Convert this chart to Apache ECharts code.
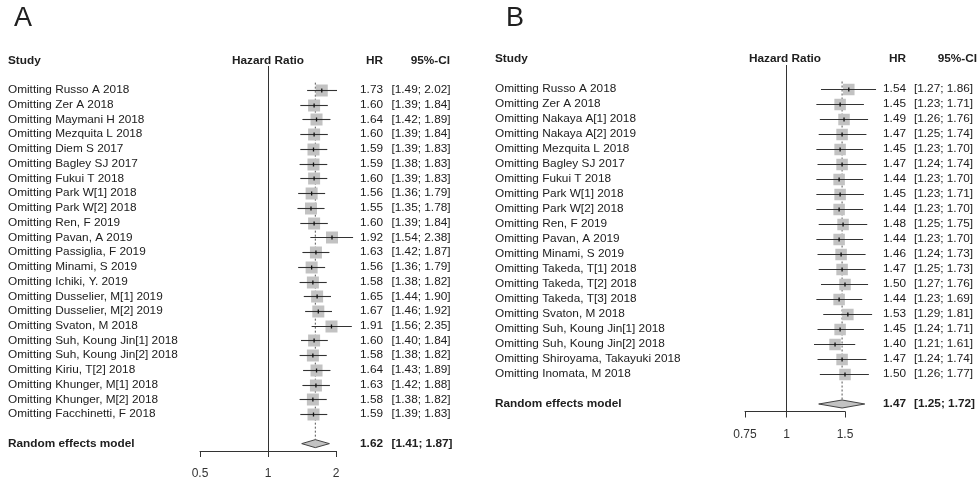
<!DOCTYPE html>
<html><head><meta charset="utf-8">
<script src="https://cdn.jsdelivr.net/npm/echarts@6/dist/echarts.min.js"></script>
<style>html,body{margin:0;padding:0;background:#fff}#c{width:979px;height:483px}</style>
</head><body><div id="c"></div>
<script>
// ---- Panel A data ----
const studiesA = ["Omitting Russo A 2018","Omitting Zer A 2018","Omitting Maymani H 2018","Omitting Mezquita L 2018","Omitting Diem S 2017","Omitting Bagley SJ 2017","Omitting Fukui T 2018","Omitting Park W[1] 2018","Omitting Park W[2] 2018","Omitting Ren, F 2019","Omitting Pavan, A 2019","Omitting Passiglia, F 2019","Omitting Minami, S 2019","Omitting Ichiki, Y. 2019","Omitting Dusselier, M[1] 2019","Omitting Dusselier, M[2] 2019","Omitting Svaton, M 2018","Omitting Suh, Koung Jin[1] 2018","Omitting Suh, Koung Jin[2] 2018","Omitting Kiriu, T[2] 2018","Omitting Khunger, M[1] 2018","Omitting Khunger, M[2] 2018","Omitting Facchinetti, F 2018"];
const hrA = [1.73,1.60,1.64,1.60,1.59,1.59,1.60,1.56,1.55,1.60,1.92,1.63,1.56,1.58,1.65,1.67,1.91,1.60,1.58,1.64,1.63,1.58,1.59];
const loA = [1.49,1.39,1.42,1.39,1.39,1.38,1.39,1.36,1.35,1.39,1.54,1.42,1.36,1.38,1.44,1.46,1.56,1.40,1.38,1.43,1.42,1.38,1.39];
const hiA = [2.02,1.84,1.89,1.84,1.83,1.83,1.83,1.79,1.78,1.84,2.38,1.87,1.79,1.82,1.90,1.92,2.35,1.84,1.82,1.89,1.88,1.82,1.83];
const pooledA = [1.62, 1.41, 1.87];
const ticksA = [0.5, 1, 2];

// ---- Panel B data ----
const studiesB = ["Omitting Russo A 2018","Omitting Zer A 2018","Omitting Nakaya A[1] 2018","Omitting Nakaya A[2] 2019","Omitting Mezquita L 2018","Omitting Bagley SJ 2017","Omitting Fukui T 2018","Omitting Park W[1] 2018","Omitting Park W[2] 2018","Omitting Ren, F 2019","Omitting Pavan, A 2019","Omitting Minami, S 2019","Omitting Takeda, T[1] 2018","Omitting Takeda, T[2] 2018","Omitting Takeda, T[3] 2018","Omitting Svaton, M 2018","Omitting Suh, Koung Jin[1] 2018","Omitting Suh, Koung Jin[2] 2018","Omitting Shiroyama, Takayuki 2018","Omitting Inomata, M 2018"];
const hrB = [1.54,1.45,1.49,1.47,1.45,1.47,1.44,1.45,1.44,1.48,1.44,1.46,1.47,1.50,1.44,1.53,1.45,1.40,1.47,1.50];
const loB = [1.27,1.23,1.26,1.25,1.23,1.24,1.23,1.23,1.23,1.25,1.23,1.24,1.25,1.27,1.23,1.29,1.24,1.21,1.24,1.26];
const hiB = [1.86,1.71,1.76,1.74,1.70,1.74,1.70,1.71,1.70,1.75,1.70,1.73,1.73,1.76,1.69,1.81,1.71,1.61,1.74,1.77];
const pooledB = [1.47, 1.25, 1.72];
const ticksB = [0.75, 1, 1.5];

const FONT = "'Liberation Sans', Arial, sans-serif";
const FS = 11.8;
const TXT = '#202020';
const L2 = Math.log2;
const fmt = v => v.toFixed(2);

function panel(idx, studies, hr, lo, hi, pooled, ticks, cfg) {
  const n = studies.length;
  const reRow = n + 2;
  const studyData = hr.map((h, i) => [L2(h), L2(lo[i]), L2(hi[i]), i + 1]);
  const textData = studies.map((s, i) => [i + 1, s, fmt(hr[i]), '[' + fmt(lo[i]) + '; ' + fmt(hi[i]) + ']', 0]);
  textData.push([reRow, 'Random effects model', fmt(pooled[0]), '[' + fmt(pooled[1]) + '; ' + fmt(pooled[2]) + ']', 1]);
  const sq = cfg.sq;
  const series = [
    {
      type: 'line', xAxisIndex: idx, yAxisIndex: idx, symbol: 'none', silent: true,
      data: [[L2(pooled[0]), 0.5], [L2(pooled[0]), reRow - 0.28]],
      lineStyle: { color: '#555', width: 1, type: [2, 2] },
      markLine: { symbol: 'none', silent: true, label: { show: false },
        lineStyle: { color: '#333', width: 1, type: 'solid' }, data: [{ xAxis: 0 }] },
      z: 1
    },
    {
      type: 'custom', xAxisIndex: idx, yAxisIndex: idx, silent: true, clip: false,
      data: studyData, encode: { x: [0, 1, 2], y: 3 },
      renderItem: function (p, api) {
        const c = api.coord([api.value(0), api.value(3)]);
        const a = api.coord([api.value(1), api.value(3)]);
        const b = api.coord([api.value(2), api.value(3)]);
        const y = Math.round(c[1]) + 0.5;
        return { type: 'group', children: [
          { type: 'rect', shape: { x: c[0] - sq / 2, y: y - sq / 2, width: sq, height: sq }, style: { fill: '#c2c2c2' } },
          { type: 'line', shape: { x1: a[0], y1: y, x2: b[0], y2: y }, style: { stroke: '#333', lineWidth: 1.1 } },
          { type: 'line', shape: { x1: c[0], y1: y - 2, x2: c[0], y2: y + 2 }, style: { stroke: '#111', lineWidth: 1.3 } }
        ] };
      }, z: 2
    },
    {
      type: 'custom', xAxisIndex: idx, yAxisIndex: idx, silent: true, clip: false,
      data: [[L2(pooled[0]), L2(pooled[1]), L2(pooled[2]), reRow]], encode: { x: [0, 1, 2], y: 3 },
      renderItem: function (p, api) {
        const r = api.value(3);
        const c = api.coord([api.value(0), r]);
        const a = api.coord([api.value(1), r]);
        const b = api.coord([api.value(2), r]);
        const h = 4;
        return { type: 'polygon', shape: { points: [[a[0], c[1]], [c[0], c[1] - h], [b[0], c[1]], [c[0], c[1] + h]] },
          style: { fill: '#c2c2c2', stroke: '#444', lineWidth: 1 } };
      }, z: 3
    },
    {
      type: 'custom', xAxisIndex: idx, yAxisIndex: idx, silent: true, clip: false,
      data: textData, encode: { y: 0 },
      renderItem: function (p, api) {
        const d = textData[p.dataIndex];
        const y = api.coord([0, d[0]])[1];
        const bold = d[4] ? 'bold ' : '';
        const f = bold + FS + 'px ' + FONT;
        return { type: 'group', children: [
          { type: 'text', x: cfg.nameX, y: y, style: { text: d[1], font: f, fill: TXT, align: 'left', verticalAlign: 'middle' } },
          { type: 'text', x: cfg.hrX, y: y, style: { text: d[2], font: f, fill: TXT, align: 'right', verticalAlign: 'middle' } },
          { type: 'text', x: cfg.ciX, y: y, style: { text: d[3], font: f, fill: TXT, align: 'left', verticalAlign: 'middle' } }
        ] };
      }, z: 4
    }
  ];
  const xAxis = {
    type: 'value', gridIndex: idx, position: 'bottom', min: L2(ticks[0]), max: L2(ticks[ticks.length - 1]),
    axisLine: { show: true, onZero: false, lineStyle: { color: '#333', width: 1 } },
    axisTick: { show: true, length: 6, customValues: ticks.map(L2), lineStyle: { color: '#333' } },
    axisLabel: { customValues: ticks.map(L2), margin: 17, color: '#333', fontSize: 12, fontFamily: FONT,
      formatter: v => { const t = ticks.find(t => Math.abs(L2(t) - v) < 1e-6); return t != null ? String(t) : ''; } },
    splitLine: { show: false }
  };
  const yAxis = { type: 'value', gridIndex: idx, inverse: true, min: cfg.ymin, max: reRow + 0.5, show: false };
  return { series, xAxis, yAxis };
}

const A = panel(0, studiesA, hrA, loA, hiA, pooledA, ticksA, { sq: 12, nameX: 8, hrX: 383, ciX: 391.5, ymin: -0.63 });
const B = panel(1, studiesB, hrB, loB, hiB, pooledB, ticksB, { sq: 11.5, nameX: 495, hrX: 906, ciX: 914, ymin: -0.6 });

function hdr(text, x, y, align, bold, size) {
  return { type: 'text', x: x, y: y, silent: true,
    style: { text: text, font: (bold ? 'bold ' : '') + (size || FS) + 'px ' + FONT, fill: TXT, align: align, verticalAlign: 'middle' } };
}

const option = {
  animation: false,
  backgroundColor: '#fff',
  grid: [
    { left: 200, top: 66, width: 136, height: 385 },
    { left: 745, top: 65, width: 100, height: 346.5 }
  ],
  xAxis: [A.xAxis, B.xAxis],
  yAxis: [A.yAxis, B.yAxis],
  series: A.series.concat(B.series),
  graphic: [
    hdr('A', 14, 19, 'left', false, 27),
    hdr('B', 506, 19, 'left', false, 27),
    hdr('Study', 8, 61, 'left', true),
    hdr('Hazard Ratio', 268, 61, 'center', true),
    hdr('HR', 383, 61, 'right', true),
    hdr('95%-CI', 450, 61, 'right', true),
    hdr('Study', 495, 58.5, 'left', true),
    hdr('Hazard Ratio', 785, 58.5, 'center', true),
    hdr('HR', 906, 58.5, 'right', true),
    hdr('95%-CI', 977, 58.5, 'right', true)
  ]
};
const chart = echarts.init(document.getElementById('c'), null, { renderer: 'canvas' });
chart.setOption(option);
</script></body></html>
